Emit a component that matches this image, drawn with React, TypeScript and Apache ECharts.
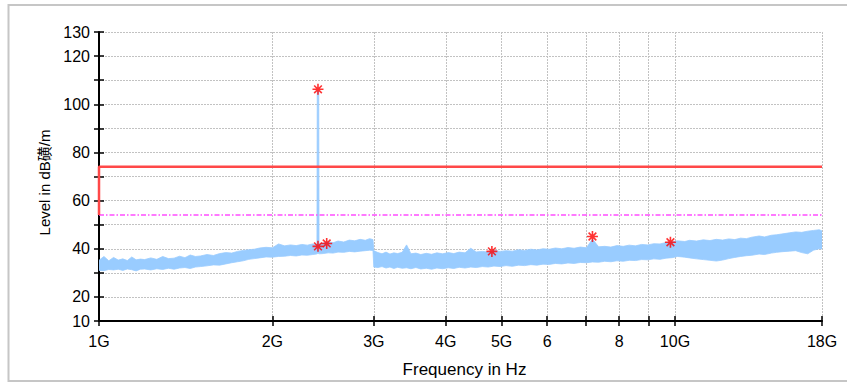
import React, { useEffect, useRef } from 'react';
import * as echarts from 'echarts';

// Frequencies in GHz of the measured trace samples
const freqGHz = [
  1.00, 1.02, 1.04, 1.06, 1.08, 1.10, 1.12, 1.14, 1.16, 1.18, 1.20, 1.23, 1.26, 1.29, 1.32, 1.35, 1.38, 1.41, 1.44, 1.47,
  1.50, 1.54, 1.58, 1.62, 1.66, 1.70, 1.74, 1.78, 1.82, 1.86, 1.90, 1.95, 2.00, 2.05, 2.10, 2.15, 2.20, 2.25, 2.30, 2.35,
  2.385, 2.390, 2.393, 2.407, 2.410, 2.415, 2.45, 2.50, 2.55, 2.60, 2.66, 2.72, 2.78, 2.84, 2.90, 2.95, 2.99,
  3.00, 3.05, 3.10, 3.15, 3.20, 3.25, 3.30, 3.36, 3.42, 3.48, 3.55, 3.62, 3.70, 3.78, 3.86, 3.95, 4.04, 4.13, 4.22, 4.32,
  4.42, 4.52, 4.63, 4.74, 4.85, 4.97, 5.09, 5.22, 5.35, 5.48, 5.62, 5.76, 5.90, 6.05, 6.20, 6.36, 6.52, 6.68, 6.85, 7.02,
  7.19, 7.37, 7.55, 7.74, 7.93, 8.13, 8.33, 8.54, 8.75, 8.97, 9.19, 9.42, 9.65, 9.89, 10.1, 10.4, 10.6, 10.9, 11.2, 11.5,
  11.8, 12.1, 12.4, 12.7, 13.0, 13.3, 13.6, 14.0, 14.3, 14.7, 15.0, 15.4, 15.8, 16.2, 16.6, 17.0, 17.4, 17.8, 18.0,
];

// Upper edge of the trace (dBµV/m)
const bandHigh = [
  35.2, 36.8, 35.0, 36.4, 35.3, 35.8, 35.1, 36.6, 35.4, 35.7, 35.5, 36.2, 35.6, 36.8, 35.9, 36.1, 36.9, 36.3, 37.4, 36.8,
  37.0, 37.6, 37.2, 38.0, 38.4, 38.2, 38.9, 39.3, 39.6, 39.8, 40.3, 40.6, 40.4, 42.0, 41.2, 41.6, 41.3, 41.8, 41.5, 42.0,
  41.8, 42.0, 105.5, 105.5, 42.2, 42.1, 42.4, 42.9, 42.5, 43.2, 42.8, 43.6, 43.3, 43.9, 43.5, 44.2, 43.8,
  39.2, 38.4, 37.9, 38.6, 37.8, 38.3, 38.0, 38.5, 41.6, 37.9, 38.2, 37.6, 38.1, 37.7, 38.3, 37.9, 38.4, 38.0, 38.6, 38.3,
  40.2, 38.7, 38.9, 38.6, 39.3, 38.9, 39.2, 39.0, 39.6, 39.3, 39.8, 39.5, 40.0, 39.8, 40.3, 40.0, 40.5, 40.2, 40.7, 40.4,
  44.0, 40.8, 41.0, 40.7, 41.3, 41.0, 41.5, 41.2, 41.8, 41.6, 42.1, 42.0, 42.6, 42.9, 43.3, 43.0, 43.5, 43.2, 43.7, 43.4,
  43.9, 43.6, 44.1, 43.8, 44.4, 44.2, 44.8, 45.3, 44.9, 45.6, 45.8, 46.2, 46.6, 47.0, 46.8, 47.3, 47.6, 47.9, 47.4,
];

// Lower edge of the trace (dBµV/m)
const bandLow = [
  31.0, 30.9, 31.4, 31.2, 31.5, 31.0, 31.6, 31.3, 30.8, 31.5, 31.6, 31.2, 31.7, 31.4, 31.9, 31.5, 32.0, 32.2, 31.8, 32.4,
  32.6, 32.9, 33.3, 33.2, 33.7, 34.2, 34.6, 35.0, 35.6, 35.9, 36.2, 36.6, 36.5, 36.8, 36.9, 37.2, 37.0, 37.4, 37.3, 37.6,
  37.8, 37.9, 38.0, 38.0, 37.9, 37.9, 38.0, 38.3, 38.2, 38.6, 38.5, 38.9, 38.7, 39.0, 39.2, 39.4, 39.3,
  32.4, 32.2, 32.6, 32.0, 32.4, 31.8, 32.3, 31.9, 32.1, 31.7, 32.2, 31.6, 31.9, 31.5, 32.0, 31.7, 32.1, 31.8, 32.3, 32.0,
  32.4, 32.2, 32.6, 32.4, 32.8, 32.6, 33.0, 32.7, 33.2, 33.0, 33.4, 33.2, 33.6, 33.5, 33.9, 33.7, 34.1, 33.9, 34.3, 34.2,
  34.5, 34.4, 34.8, 34.6, 35.0, 34.8, 35.2, 35.1, 35.5, 35.4, 35.8, 35.6, 36.1, 36.3, 36.8, 36.5, 36.2, 35.8, 35.5, 35.2,
  34.9, 35.3, 35.9, 36.4, 36.8, 37.1, 37.3, 37.8, 37.6, 38.2, 38.5, 38.8, 39.0, 39.2, 38.4, 37.9, 39.4, 40.0, 39.9,
];

// Peak markers
const markerFreq = [2.40, 2.40, 2.485, 4.81, 7.19, 9.82];
const markerLevel = [106.2, 41.0, 42.2, 38.9, 45.1, 42.7];

// Limit lines
const peakLimitFreq = [1, 1, 18];
const peakLimitLevel = [54, 74, 74];
const avgLimitFreq = [1, 18];
const avgLimitLevel = [54, 54];

// Axis ticks / labels
const xTickValues = [1, 2, 3, 4, 5, 6, 7, 8, 9, 10, 18];
const xLabelValues = [1, 2, 3, 4, 5, 6, 8, 10, 18];
const xPlainLabels = [6, 8];
const yLabelValues = [10, 20, 40, 60, 80, 100, 120, 130];

const FONT = '"Liberation Sans", Arial, "Noto Sans CJK SC", sans-serif';

export default function App() {
  const ref = useRef<HTMLDivElement>(null);

  useEffect(() => {
    document.body.style.margin = '0';
    if (!ref.current) return;
    const chart = echarts.init(ref.current, null, { renderer: 'svg' });

    const asterisk = 'path://M6,0L6,12M0,6L12,6M1.8,1.8L10.2,10.2M10.2,1.8L1.8,10.2';

    // One polygon: upper edge left→right, lower edge right→left
    const renderBand = (params: any, api: any) => {
      if (params.dataIndex !== 0) return null;
      const upper = freqGHz.map((f, i) => api.coord([f, bandHigh[i]]));
      const lower = freqGHz.map((f, i) => api.coord([f, bandLow[i]])).reverse();
      return {
        type: 'polygon',
        shape: { points: upper.concat(lower) },
        style: { fill: '#99ccff', stroke: '#99ccff', lineWidth: 0.8 },
      };
    };

    const option: any = {
      animation: false,
      backgroundColor: '#ffffff',
      textStyle: { fontFamily: FONT },
      graphic: [
        {
          type: 'rect',
          shape: { x: 8.5, y: 5, width: 900, height: 376 },
          style: { fill: 'none', stroke: '#c6c6c6', lineWidth: 2 },
          silent: true,
          z: -10,
        },
      ],
      grid: { left: 99, right: 25, top: 32, bottom: 61 },
      xAxis: [
        {
          type: 'log',
          logBase: 10,
          min: 1,
          max: 18,
          position: 'bottom',
          name: 'Frequency in Hz',
          nameLocation: 'middle',
          nameGap: 40,
          nameTextStyle: { fontSize: 17, color: '#000', fontFamily: FONT, padding: [0, 0, 0, 8] },
          axisLine: { show: true, onZero: false, lineStyle: { color: '#000', width: 2 } },
          axisTick: { show: true, length: 5, customValues: xTickValues, lineStyle: { color: '#000', width: 1.5 } },
          axisLabel: {
            show: true,
            margin: 12,
            fontSize: 16,
            color: '#000',
            fontFamily: FONT,
            customValues: xLabelValues,
            formatter: (v: number) => (xPlainLabels.includes(Math.round(v)) ? String(Math.round(v)) : Math.round(v) + 'G'),
          },
          splitLine: { show: true, lineStyle: { color: '#c2c2c2', type: [2, 1], width: 1 } },
          minorTick: { show: false },
        },
        {
          type: 'log',
          logBase: 10,
          min: 1,
          max: 18,
          position: 'bottom',
          axisLine: { show: false },
          axisTick: { show: true, inside: true, length: 5, customValues: xTickValues, lineStyle: { color: '#000', width: 1.5 } },
          axisLabel: { show: false },
          splitLine: { show: false },
        },
      ],
      yAxis: [
        {
          type: 'value',
          min: 10,
          max: 130,
          interval: 10,
          position: 'left',
          name: 'Level in dB磺/m',
          nameLocation: 'middle',
          nameGap: 46,
          nameTextStyle: { fontSize: 15, color: '#000', fontFamily: FONT, padding: [0, 12, 0, 0] },
          axisLine: { show: true, onZero: false, lineStyle: { color: '#000', width: 2 } },
          axisTick: { show: true, length: 5, lineStyle: { color: '#000', width: 1.5 } },
          axisLabel: {
            show: true,
            margin: 9,
            fontSize: 16,
            color: '#000',
            fontFamily: FONT,
            customValues: yLabelValues,
          },
          splitLine: { show: true, lineStyle: { color: '#c2c2c2', type: [2, 1], width: 1 } },
        },
        {
          type: 'value',
          min: 10,
          max: 130,
          interval: 10,
          position: 'left',
          axisLine: { show: false },
          axisTick: { show: true, inside: true, length: 5, lineStyle: { color: '#000', width: 1.5 } },
          axisLabel: { show: false },
          splitLine: { show: false },
        },
      ],
      series: [
        {
          name: 'trace',
          type: 'custom',
          silent: true,
          clip: true,
          xAxisIndex: 0,
          yAxisIndex: 0,
          encode: { x: 0, y: [1, 2] },
          renderItem: renderBand,
          data: freqGHz.map((f, i) => [f, bandLow[i], bandHigh[i]]),
          z: 2,
        },
        {
          name: 'avg-limit',
          type: 'line',
          symbol: 'none',
          silent: true,
          lineStyle: { color: '#ff4dff', width: 1.5, type: [5, 2, 1.5, 2] },
          data: avgLimitFreq.map((f, i) => [f, avgLimitLevel[i]]),
          z: 3,
        },
        {
          name: 'peak-limit',
          type: 'line',
          symbol: 'none',
          silent: true,
          lineStyle: { color: '#ff4848', width: 2.5 },
          data: peakLimitFreq.map((f, i) => [f, peakLimitLevel[i]]),
          z: 4,
        },
        {
          name: 'markers',
          type: 'scatter',
          symbol: asterisk,
          symbolSize: 11,
          silent: true,
          itemStyle: { color: 'rgba(0,0,0,0)', borderColor: '#ff0000', borderWidth: 1.6 },
          data: markerFreq.map((f, i) => [f, markerLevel[i]]),
          z: 5,
        },
      ],
    };

    chart.setOption(option);
    return () => chart.dispose();
  }, []);

  return <div ref={ref} style={{ width: 847, height: 383 }} />;
}
